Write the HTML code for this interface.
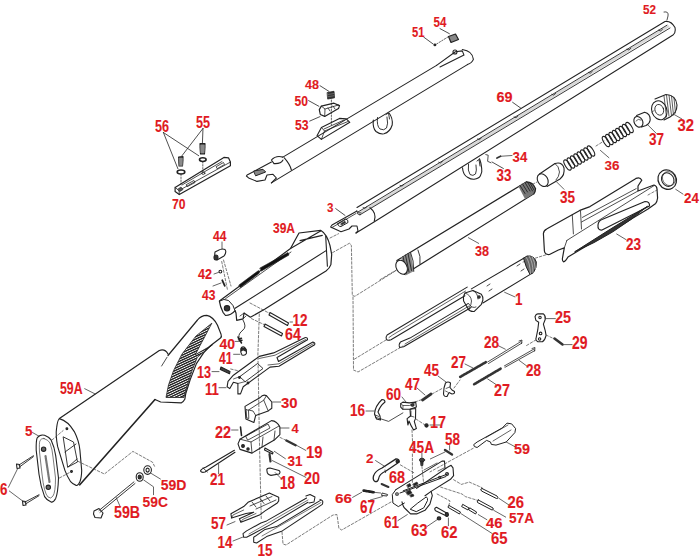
<!DOCTYPE html>
<html><head><meta charset="utf-8"><style>
html,body{margin:0;padding:0;background:#fff;width:700px;height:560px;overflow:hidden}
svg{display:block}
.lb text{font-family:"Liberation Sans",sans-serif;font-weight:bold;fill:#e01a22;stroke:#e01a22;stroke-width:0.12px}
</style></head><body>
<svg width="700" height="560" viewBox="0 0 700 560">
<defs>
<pattern id="chk" width="2.2" height="2.2" patternUnits="userSpaceOnUse" patternTransform="rotate(-25)"><rect width="2.2" height="1.35" fill="#1a1a1a"/></pattern>
<pattern id="chk2" width="2" height="2" patternUnits="userSpaceOnUse" patternTransform="rotate(-30)"><rect width="2" height="1" fill="#222"/></pattern>
</defs>
<rect width="700" height="560" fill="#fff"/>
<g fill="none" stroke="#222" stroke-width="1.1" stroke-linejoin="round" stroke-linecap="round">
<path d="M357,207.5 L665,21.5 Q671,20.5 675,27.5 Q676,33 673,35 L374,222 L356,233" />
<path d="M359.5,213.4 L668,26.5" stroke-width="2.6" stroke="#d8d8d8"/>
<path d="M358,212 L667,25.2 M360,214.8 L670,28" stroke-width="0.9"/>
<path d="M358,212 Q355.5,214 360,214.8" stroke-width="0.9"/>
<path d="M357,211 L332,225 L330.6,227 L341,231.7 L349,229 L352,226 L357,226 L358,231 L356,233" />
<path d="M370,207.7 Q377,213 374.3,221" />
<path d="M338,223.5 L345.5,219 Q348.5,219.5 348,222.5 L341,226.5 Q337.5,226.5 338,223.5 Z" stroke-width="1"/>
<path d="M341,223.5 L345,221.2 L345.5,222.8 L341.5,225 Z" fill="#333" stroke-width="0.6"/>
<path d="M332,227.5 L356,213.5 M356.5,211 Q358.5,214 361,213" stroke-width="0.8"/>
<path d="M658.6,30.33999999999999 q2,2 4,-1" stroke-width="0.8"/>
<path d="M626.9,49.360000000000014 q2,2 4,-1" stroke-width="0.8"/>
<path d="M588.3,72.52000000000002 q2,2 4,-1" stroke-width="0.8"/>
<path d="M551.7,94.47999999999998 q2,2 4,-1" stroke-width="0.8"/>
<path d="M514,117.1 q2,2 4,-1" stroke-width="0.8"/>
<path d="M477.4,139.06 q2,2 4,-1" stroke-width="0.8"/>
<path d="M438.6,162.33999999999997 q2,2 4,-1" stroke-width="0.8"/>
<path d="M400,185.5 q2,2 4,-1" stroke-width="0.8"/>
<path d="M363,207.7 q2,2 4,-1" stroke-width="0.8"/>
<path d="M436.6,65.4 L282.9,157.1" />
<path d="M467.4,64.6 L271.4,182.9" />
<path d="M436.6,65.4 L455.4,51.7 L462.3,50.9 L464,55.1 L440,67" />
<path d="M462.3,49.5 Q472.6,51 473.4,59.4 Q472,63 467.4,64.6" />
<circle cx="455" cy="52" r="2" />
<path d="M373.3,120 Q372.5,128 376,131.5 Q380,134.5 384,133.8 Q390,132 392.2,125 Q393,118 389,113" stroke-width="1.1"/>
<path d="M377.5,117.5 Q376.5,126 380,129 Q384,131 386.5,128 Q388.5,124 387,117 M386,114.5 L388.5,113 L389.5,119" stroke-width="0.9"/>
<path d="M317,135.7 L321.4,127.4 L339.5,118.4 L346.3,118.9 L349.8,122.3 L321.4,139.4 Z" stroke-width="1.1"/>
<path d="M321.4,127.4 L324.5,131 L321.4,139.4 M324.5,131 L348,121.5 M324,129 L344,120" stroke-width="0.8"/>
<path d="M319.3,109.6 L321.3,106.1 L334,103.2 L339.5,105.6 L338.5,108.6 L324.7,116.4 L320.3,114.5 Z" stroke-width="1.2"/>
<path d="M321.3,106.1 L325,109 L324.7,116.4 M325,109 L338.5,105 M328,108 l2,3 M333,106 l2,3" stroke-width="0.8"/>
<path d="M327.5,92.5 L334,91.3 L334.5,97.8 L328,99 Z" fill="#333" stroke-width="0.8"/>
<path d="M328,94.5 l6,-1 M328,96.7 l6,-1" stroke="#888" stroke-width="0.6"/>
<line x1="331.4" y1="100" x2="331.4" y2="125" stroke-dasharray="1.5,1.5" stroke-width="0.7"/>
<path d="M282.9,157.1 Q276,155 271.4,160 L274,163.6 Q281,164 283,160" />
<path d="M271.4,162.1 L247.1,175 L246.4,176 L248.6,177.9 L257,181.4 L265,180 L267,175 L273,174.3 L276.4,178 L271.4,182.9" />
<path d="M284.3,157.9 Q290,164.3 291.4,170" />
<path d="M254,171 L263,169.3 L265.7,172 L256,175.7 Z" stroke-width="1" fill="#888"/>
<path d="M175.1,187.5 L223.9,157.4 L228.5,157.8 L230.4,162.1 L230.4,165.8 L179.3,194.6 L175.1,191.5 Z" stroke-width="1.2"/>
<path d="M175.1,187.5 L179,190.5 L230.4,162.1 M179,190.5 L179.3,194.6 M182,185 L222,161.5" stroke-width="0.8"/>
<path d="M186.5,184.5 L194,180.5 L195,182.5 L187.5,186.5 Z M216.5,166.5 L223.5,162.5 L224.5,164.5 L217.5,168.5 Z" stroke-width="0.8"/>
<ellipse cx="203.3" cy="173.2" rx="1.6" ry="1.2" stroke-width="0.8"/>
<path d="M178,189 l3,-2 l2,2.5 l-3,2 Z" fill="#555" stroke-width="0.6"/>
<path d="M178.6,157 L183,156.6 L183,160 L182.5,166 L179,166 L178.6,160 Z" fill="#666"/>
<path d="M178.6,159 h4.4 M178.8,161 h4 M179,163 h3.6 M179,165 h3.5" stroke="#fff" stroke-width="0.5"/>
<path d="M200,143.6 L205,143.6 L205,147 L204.5,154 L200.5,154 L200,147 Z" fill="#666"/>
<path d="M200,146 h5 M200.2,148 h4.6 M200.3,150 h4.3 M200.4,152 h4" stroke="#fff" stroke-width="0.5"/>
<ellipse cx="181" cy="172" rx="3.8" ry="2" stroke-width="1.6"/>
<ellipse cx="202.8" cy="159.6" rx="3.3" ry="1.9" stroke-width="1.6"/>
<line x1="181" y1="174" x2="181" y2="186" stroke-dasharray="1.5,1.5" stroke-width="0.7"/>
<line x1="202.8" y1="161.6" x2="202.8" y2="172" stroke-dasharray="1.5,1.5" stroke-width="0.7"/>
<line x1="163.4" y1="132.5" x2="177.9" y2="168.7" stroke-width="0.8"/>
<line x1="163.4" y1="132.5" x2="198.7" y2="155.7" stroke-width="0.8"/>
<line x1="203" y1="128.4" x2="182" y2="155.7" stroke-width="0.8"/>
<line x1="203" y1="128.4" x2="202.4" y2="143.6" stroke-width="0.8"/>
<line x1="320" y1="85.7" x2="329" y2="91.4" stroke-width="0.8"/>
<line x1="308.6" y1="100.6" x2="318.9" y2="106.3" stroke-width="0.8"/>
<line x1="309.7" y1="121.1" x2="320" y2="116.6" stroke-width="0.8"/>
<line x1="423.7" y1="37.1" x2="433.1" y2="44" stroke-width="0.8"/>
<line x1="440" y1="28.6" x2="449.4" y2="33.7" stroke-width="0.8"/>
<line x1="512.6" y1="102.3" x2="520.6" y2="108" stroke-width="0.8"/>
<line x1="335.7" y1="208.6" x2="345" y2="215.4" stroke-width="0.8"/>
<line x1="492" y1="162" x2="503.4" y2="168.5" stroke-width="0.8"/>
<line x1="436.6" y1="44" x2="447.7" y2="37.1" stroke-dasharray="1.5,1.5" stroke-width="0.7"/>
<circle cx="434.9" cy="44.9" r="0.9" fill="#222"/>
<path d="M448.5,36.5 L455.5,34 L458.5,39.5 L451,42.5 Z" fill="#888" stroke-width="1.2"/>
<path d="M462.5,167.7 Q463,175 467.9,177.5 Q471,179.5 474.1,179.3 Q479,178.5 480.4,175.7 Q482.5,172 481.7,168.6 Q481,162 479.5,158.75" stroke-width="1.1"/>
<path d="M468.5,164 Q467.5,171 470,174.5 Q473,176.5 475.5,174 Q477,171 476,165 M477,161 L479,159.5 L480,166" stroke-width="0.9"/>
<path d="M299,233 L320.6,230.3 Q327,234 330,245.7 L331.7,254.3 L330.9,264.6 Q329.5,268.5 326,271 L300,286.9 L265,309.1 L250.4,317.2 L244,313.1 L243.1,318.8 L236.7,320.4 L236,313 L235.1,310.7 Q231,315.5 225.5,315.5 L223,312.3 Q220,306 219.4,301.1 L290.5,248.5 L299,233 Z" stroke-width="1.2"/>
<path d="M290.5,248.5 L320.6,231 M300,240.6 L322.3,235.4 M325.7,236.3 L327.4,266.3 M325.7,250.9 L235.1,308.3" />
<path d="M291,252 L225.5,298.7" stroke-width="0.8"/>
<path d="M239,285 L258.5,270.5 L259.5,273 L240.5,287.5 Z M260,268 L288,252.5 L289,255 L261.5,271 Z" fill="#111" stroke-width="0.6"/>
<path d="M219.4,301.1 Q224,298 228.5,300.5 Q234,305 235.1,310.7" stroke-width="1"/>
<circle cx="227" cy="308.3" r="2.7" fill="#333"/>
<path d="M244,313.1 L240,316 M243.1,318.8 L246,316" stroke-width="0.8"/>
<path d="M215,252 Q214,258 217,260 L224,256 Q227,252 225,249.5 Q222,248 218,250.5 Z" />
<ellipse cx="216" cy="257.5" rx="2" ry="2.5" fill="#333"/>
<circle cx="220.4" cy="271.6" r="1.4" />
<path d="M222.3,280.3 L224.8,285.8" stroke-width="1.8"/>
<path d="M222,242 L222,249" stroke-width="0.75" stroke="#333"/>
<path d="M214,274 L218.5,272.4" stroke-width="0.75" stroke="#333"/>
<path d="M213,286 L221,283" stroke-width="0.75" stroke="#333"/>
<path d="M221.7,261.5 L227.5,290" stroke-dasharray="2.5,1.8" stroke-width="0.7" stroke="#444"/>
<path d="M223.5,260 L231,286" stroke-dasharray="2.5,1.8" stroke-width="0.7" stroke="#444"/>
<path d="M270,312.5 L288.5,323 L287.5,325.5 L269,315 Z" />
<path d="M265,324 L282.5,333.5 L281.5,336 L264,326.5 Z" />
<path d="M290,322 L292.5,322" stroke-width="0.75" stroke="#333"/>
<path d="M250,303 L270,313.6" stroke-dasharray="2.5,1.8" stroke-width="0.7" stroke="#444"/>
<path d="M251.4,318.6 L265,325" stroke-dasharray="2.5,1.8" stroke-width="0.7" stroke="#444"/>
<path d="M259.3,314 L257.9,354 L258.4,380 L259.4,440 L261.3,520" stroke-dasharray="2.5,1.8" stroke-width="0.7" stroke="#444"/>
<path d="M243,320 Q247,327 243,330 Q238,334 239,337" stroke-width="0.9"/>
<path d="M238,337 L241.5,343 M238.5,339 l3,-0.8 M239,341 l3,-0.8" stroke-width="1.5"/>
<path d="M241,349 Q241,346.5 244,347 Q247,349 246.4,353.5 Q245,356 242,355 Q240,352 241,349 Z" stroke-width="1.1"/>
<path d="M241,349 Q243,347 246,349.5 L245.5,351 Q243,349 241.3,351 Z" fill="#333"/>
<path d="M235,341.4 L237.9,341.4" stroke-width="0.75" stroke="#333"/>
<path d="M233.6,354.3 L240,354.3" stroke-width="0.75" stroke="#333"/>
<path d="M221,367 L230,371.5 L229.5,373.8 L220.3,369.5 Z" fill="#444"/>
<path d="M212,371.6 L219,371.6" stroke-width="0.75" stroke="#333"/>
<path d="M219,387.7 L226,387.7" stroke-width="0.75" stroke="#333"/>
<path d="M230.7,369 L237.9,370.7" stroke-dasharray="2.5,1.8" stroke-width="0.7" stroke="#444"/>
<path d="M304.8,337.7 Q307.8,337 307.5,339.8 L277,357.5 L278.5,361.5 L312.9,342.1 Q315.5,342.5 314.6,344.8 L279,366.3 L270,367.1 L243.2,386.8 L240.5,393.9 L237.9,393.9 L237.9,383.5 L233.4,382.3 L229.8,388.6 L227.1,386.8 L228,381.4 L233.4,375.2 L259.3,356.4 L273.6,352.9 Z" stroke-width="1.1"/>
<path d="M240,376.5 L257.5,363.5 L263,368.5 L245.5,381.5 Z" stroke-width="0.9"/>
<path d="M305.5,339.6 L275,355.2 L259,358.5 M313.5,343.6 L279,363.8 L268,365 M233.5,379 L240,376.5 M237.9,383.5 L245.5,381.5" stroke-width="0.7"/>
<circle cx="239.5" cy="377.5" r="0.9" fill="#333"/><circle cx="248" cy="383" r="0.9" fill="#333"/>
<path d="M245,406.4 L245.9,418.9 L253.9,422.5 L255.7,415.4 L268.2,410.9 L271.8,408.2 L271.8,402 L266.4,395.7 Q263,394 260.2,397.5 L245,406.4 Z" stroke-width="1.1"/>
<path d="M248.6,410 L263.75,400.2 L266.4,395.7 M255.7,415.4 L253,411 L248.6,410 M263.75,400.2 L268.2,410.9" stroke-width="0.8"/>
<path d="M246.5,409.5 L248.5,410.5 L248.8,418.5 L247,418 Z" stroke-width="0.8"/>
<path d="M272.7,402 L280.7,402" stroke-width="0.75" stroke="#333"/>
<path d="M240,439.2 L271.5,420.6 Q277,421 279.9,427.1 L279.9,434.6 L274.3,440.1 L261.3,447.6 L252,453.1 L240,449.4 L238,443.9 Z" stroke-width="1.1"/>
<path d="M246,436 L268,424 L270,428 L248,440 Z M240,439.2 L251,442 L279,426 M251,442 L252,453 M262,447 L263,437 M274,440 L275,431" stroke-width="0.8"/>
<circle cx="243" cy="446" r="1.4" fill="#333"/><circle cx="248" cy="449" r="1.2" fill="#333"/>
<path d="M289,428 L280,428" stroke-width="0.75" stroke="#333"/>
<path d="M240.5,427 L241.5,435.5" stroke-width="1.6"/>
<path d="M231.6,430 L238,430" stroke-width="0.75" stroke="#333"/>
<path d="M234.4,450.3 L206,467 Q201,469 200.5,471 Q201.5,473 205,472 L235,452.3" />
<path d="M203,468 L207.4,472" stroke-width="0.8"/>
<path d="M218.6,464.3 L218.6,473.6" stroke-width="0.75" stroke="#333"/>
<path d="M286.4,440.5 L295.6,445.2" stroke-width="2.4" stroke="#333"/>
<path d="M280,437.4 L286.4,440.5" stroke-dasharray="2.5,1.8" stroke-width="0.7" stroke="#444"/>
<path d="M295.6,444.8 L305.8,450.4" stroke-width="0.75" stroke="#333"/>
<path d="M265,448 L273,452.5 L272.5,454 L264.5,450 Z" />
<path d="M274.3,451.3 L285.4,458.7" stroke-width="0.75" stroke="#333"/>
<path d="M269.5,454 L270.5,461.5" stroke-width="2.2" stroke="#333"/>
<path d="M272.4,460.6 L305.8,477.3" stroke-width="0.75" stroke="#333"/>
<path d="M267,471 Q266,468 270,468 L279,470.5 Q281,472 279,474 L271,475.4 Q267,474.5 267,471 Z" />
<path d="M275.2,472.6 L281.7,479.1" stroke-width="0.75" stroke="#333"/>
<path d="M248,502.3 L269.4,493 L270.9,493.7 L278.7,497.3 L278.7,500.9 L277.3,503 L265.1,510.9 L259.4,515.1 L240.9,522.3 L239.4,518.7 L253.7,512.3 L246,513.5 L231.6,518 L230.9,513.7 L243.7,506.6 Z" stroke-width="1.1"/>
<path d="M250,506 L272,496.5 M256,509 L276,500 M252,502 l4,5 M260,498.5 l4,5 M266,496 l4,5" stroke-width="0.8"/>
<path d="M231.6,518 L233,515 L243.7,510 M241,522 L242.5,519.5 L256,513.5" stroke-width="0.7"/>
<path d="M227,525 L235,521.6" stroke-width="0.75" stroke="#333"/>
<path d="M306.6,498 L266.6,520.9 L260.9,523 L246.6,530.9 L243,533.7 L243.7,537.3 L246.6,537.3 L270.9,524.4 L308,502.3 M305.9,496 L310,494.5 L315,497 L314,502 L309,503" stroke-width="1.05"/>
<path d="M308,500 L249,534" stroke-width="0.6"/>
<path d="M320.9,500.1 L276.6,526.6 L265.1,529.4 L253.7,537.3 L253.7,542.3 L256.6,543 L266.6,536.6 L282.3,530.9 L322.3,504.4 Q324,500 320,499.4" stroke-width="1.05"/>
<path d="M321,502.5 L262,536" stroke-width="0.6"/>
<path d="M233,541 L243,537" stroke-width="0.75" stroke="#333"/>
<path d="M282,532 L283,544 L286,545 L333,515 L337,514.6 L338.9,528.3 L341.7,530 L391,502" stroke-dasharray="2.5,1.8" stroke-width="0.7" stroke="#444"/>
<path d="M84.7,388.7 L95,393.9" stroke-width="0.75" stroke="#333"/>
<path d="M59.4,418.6 L159.3,350.5 Q165,348.5 168,354" stroke-width="1.2"/>
<path d="M168,355.5 L197.5,320 Q201,315.5 206.8,315.4 Q213,316.5 217.5,325.2 L221,334.1 Q222,336.5 220.5,338 L210.4,345.7 L203.6,352.9 L196.4,363.6 L190.2,379.6 L185.7,393.9 L184.8,399.3 Q183,402.5 181.25,402.9 L160.7,402 L155,399.5" stroke-width="1.2"/>
<path d="M161.6,366 L167,357.3" stroke-width="0.8"/>
<path d="M211.6,323.4 L196,336 L182,354 L173.5,370.7 L168.5,385 L166,397.5 L183.9,397.5 L187.5,385 L192,370.7 L197.3,357.3 L212.5,344.8 L195.5,354.6 Z" fill="url(#chk)" stroke="#222" stroke-width="0.8"/>
<path d="M155,399.5 L79.8,484.8" stroke-width="1.6"/>
<path d="M59.4,418.6 Q68,421 74.3,431.6 Q79,441 79.9,450.1 L81.7,470.6 Q81.5,478 79.9,481.7 Q78,486 76.1,485.4 Q73,484.5 70.6,481.7 Q67,476 65,470.6 L57.6,446.4 Q55.5,435 56.6,427.9 Q57.5,420 59.4,418.6 Z" stroke-width="1.1"/>
<path d="M63.5,437 L73.5,442 L77.5,462 L68,467 Z M65,452 L76,444 M68,467 L77,459" stroke-width="0.9"/>
<circle cx="66.9" cy="428.8" r="0.9" fill="#333"/><circle cx="71.5" cy="471.5" r="0.9" fill="#333"/>
<path d="M44.6,435.3 Q49,437 51.1,439.9 Q54.5,447 55.7,455.7 L58.5,478 Q58,493 55.7,498.4 Q53.5,502.5 51.1,502.1 Q47,500.5 44.6,496.6 Q40.5,486 39,474.3 L36.2,450.1 Q36,441 37.1,438 Q40,434 44.6,435.3 Z" stroke-width="1.1"/>
<path d="M44,438.5 Q48.5,440 50,443 Q52.5,450 53,457 L55.5,478 Q55.5,492 53,496 Q51,499.5 48,497 Q44,493 42,474 L39.5,452 Q39,443 40,440.5 Q41.5,438 44,438.5 Z" stroke-width="0.6"/>
<circle cx="43.6" cy="449.2" r="2.2" fill="#666"/><circle cx="48.3" cy="487.3" r="2.2" fill="#666"/>
<path d="M45.5,456 L49.5,482" stroke-width="2.2" stroke="#777" stroke-dasharray="1.2,0.6"/>
<path d="M32.5,432.5 L39,436.2" stroke-width="0.75" stroke="#333"/>
<path d="M52,440 L63.1,430.6" stroke-dasharray="2.5,1.8" stroke-width="0.7" stroke="#444"/>
<path d="M59.4,478 L71.5,471.5" stroke-dasharray="2.5,1.8" stroke-width="0.7" stroke="#444"/>
<path d="M33.4,455.7 L19,465 M33.4,456.7 L19.5,467" stroke-width="0.9"/>
<path d="M16.5,464 L19.5,464.5 L20,468 L17,468.5 Z" />
<path d="M39,494.7 L25,502 M39,495.7 L25.5,504" stroke-width="0.9"/>
<path d="M22.5,501 L25.5,501.5 L26,505 L23,505.5 Z" />
<path d="M8.4,487.3 L17.6,468.7" stroke-width="0.75" stroke="#333"/>
<path d="M9.3,491 L24.1,502.1" stroke-width="0.75" stroke="#333"/>
<path d="M78,461.3 L81.8,463.2 L104.4,474 L132.9,451.4 L152.5,462.2 L154.5,466.2" stroke-dasharray="2.5,1.8" stroke-width="0.7" stroke="#444"/>
<ellipse cx="147.6" cy="470.1" rx="3.8" ry="4.3" /><ellipse cx="147.6" cy="470.1" rx="1.6" ry="2" />
<ellipse cx="139.7" cy="477" rx="3.5" ry="4.3" /><ellipse cx="139.7" cy="477" rx="1.6" ry="2" fill="#333"/>
<path d="M133.9,481.9 L99,510.5 M135,483.5 L100,512.3" stroke-width="0.9"/>
<path d="M94,511 L99,508.5 L103,513 L101,518 L95,517.5 L93.5,514 Z" />
<path d="M116.2,497.6 L120.1,506.4" stroke-width="0.75" stroke="#333"/>
<path d="M150.5,473 L160.4,479" stroke-width="0.75" stroke="#333"/>
<path d="M143.7,480 L153.5,486.8 L153.5,494.7" stroke-width="0.75" stroke="#333"/>
<path d="M526.3,181.9 L396.9,260.5 M533.8,193.8 L404.4,274.4" stroke-width="1.2"/>
<path d="M518.5,186.6 L526.3,181.9 Q533,182 535.6,188.8 Q535.5,192 533.8,193.8 L525,199 Z" fill="#777" stroke="none"/>
<path d="M526.3,181.9 Q533,182 535.6,188.8 Q535.5,192 533.8,193.8" stroke-width="1.2"/>
<path d="M520,185.5 l5,8 M522.5,184 l5,8 M525,182.5 l5,8.5 M527.5,182 l5,9 M530,183 l4,7" stroke-width="0.9" stroke="#222"/>
<path d="M401,257.8 L410.6,252.5 L413.8,271.3 L405.5,275.5 Z" fill="#8a8a8a" stroke="none"/>
<path d="M403,256.5 l3.5,16.5 M405.5,255 l3.5,17 M408,253.5 l3.5,17 M410.6,252.5 Q414,260 413.8,271.3 M418,250 Q421,256 420,263.8" stroke-width="0.9" stroke="#222"/>
<ellipse cx="401.6" cy="267.2" rx="5.3" ry="7.4" transform="rotate(-28 401.6 267.2)" fill="#fff" stroke-width="1.1"/>
<path d="M468.4,237.7 L478.7,243.4" stroke-width="0.75" stroke="#333"/>
<path d="M380,279.7 L398,269" stroke-dasharray="2.5,1.8" stroke-width="0.7" stroke="#444"/>
<path d="M532.4,184.4 L537,182" stroke-dasharray="2.5,1.8" stroke-width="0.7" stroke="#444"/>
<path d="M539.5,174 L555,163.5 Q562,161.5 564,168 Q565,175 560,179 L547,186.5" stroke-width="1.1"/>
<path d="M555,163.5 Q559,166 559.5,172 Q559,177 556,180" stroke-width="0.8"/>
<ellipse cx="542.7" cy="180.1" rx="5" ry="6.8" transform="rotate(-30 542.7 180.1)"/>
<path d="M556.7,182 L564,189.3" stroke-width="0.75" stroke="#333"/>
<ellipse cx="567.5" cy="165.0" rx="2.3" ry="5.8" transform="rotate(-32 567.5 165.0)" stroke-width="1.1"/>
<ellipse cx="570.9" cy="163.0" rx="2.3" ry="5.8" transform="rotate(-32 570.9 163.0)" stroke-width="1.1"/>
<ellipse cx="574.2" cy="161.0" rx="2.3" ry="5.8" transform="rotate(-32 574.2 161.0)" stroke-width="1.1"/>
<ellipse cx="577.6" cy="159.0" rx="2.3" ry="5.8" transform="rotate(-32 577.6 159.0)" stroke-width="1.1"/>
<ellipse cx="580.9" cy="157.0" rx="2.3" ry="5.8" transform="rotate(-32 580.9 157.0)" stroke-width="1.1"/>
<ellipse cx="584.3" cy="155.0" rx="2.3" ry="5.8" transform="rotate(-32 584.3 155.0)" stroke-width="1.1"/>
<ellipse cx="587.6" cy="153.0" rx="2.3" ry="5.8" transform="rotate(-32 587.6 153.0)" stroke-width="1.1"/>
<ellipse cx="591.0" cy="151.0" rx="2.3" ry="5.8" transform="rotate(-32 591.0 151.0)" stroke-width="1.1"/>
<path d="M596,146 L604,141" stroke-dasharray="2.5,1.8" stroke-width="0.7" stroke="#444"/>
<ellipse cx="606.0" cy="141.5" rx="2.3" ry="5.8" transform="rotate(-32 606.0 141.5)" stroke-width="1.1"/>
<ellipse cx="609.4" cy="139.5" rx="2.3" ry="5.8" transform="rotate(-32 609.4 139.5)" stroke-width="1.1"/>
<ellipse cx="612.7" cy="137.5" rx="2.3" ry="5.8" transform="rotate(-32 612.7 137.5)" stroke-width="1.1"/>
<ellipse cx="616.1" cy="135.5" rx="2.3" ry="5.8" transform="rotate(-32 616.1 135.5)" stroke-width="1.1"/>
<ellipse cx="619.4" cy="133.5" rx="2.3" ry="5.8" transform="rotate(-32 619.4 133.5)" stroke-width="1.1"/>
<ellipse cx="622.8" cy="131.5" rx="2.3" ry="5.8" transform="rotate(-32 622.8 131.5)" stroke-width="1.1"/>
<ellipse cx="626.1" cy="129.5" rx="2.3" ry="5.8" transform="rotate(-32 626.1 129.5)" stroke-width="1.1"/>
<ellipse cx="629.5" cy="127.5" rx="2.3" ry="5.8" transform="rotate(-32 629.5 127.5)" stroke-width="1.1"/>
<path d="M600.4,150.4 L608.9,157.7" stroke-width="0.75" stroke="#333"/>
<path d="M636.6,115.5 L644.6,112.2 Q650.5,113.5 650.2,120 Q649.5,124 646,125.5 L641.5,127" stroke-width="1.1"/>
<ellipse cx="638.4" cy="121.8" rx="4.2" ry="5.6" transform="rotate(-28 638.4 121.8)" stroke-width="1.1"/>
<path d="M636,121 Q638,118 641,120" stroke-width="0.7"/>
<path d="M647.8,124.9 L656.3,133.4" stroke-width="0.75" stroke="#333"/>
<path d="M652,112 L655,110" stroke-dasharray="2.5,1.8" stroke-width="0.7" stroke="#444"/>
<path d="M655,99 L666,94.5 Q676,95 677,105 Q677,113 670,117 L664,120" stroke-width="1.1"/>
<path d="M664,96 l2.5,21 M666.5,95 l2.5,21 M669,95 l2.5,20.5 M671.5,96 l2,19 M674,98 l1.5,15" stroke-width="0.8" stroke="#333"/>
<ellipse cx="659.3" cy="110.3" rx="7.5" ry="9.7" transform="rotate(-20 659.3 110.3)" stroke-width="1.1"/>
<ellipse cx="659.3" cy="109.8" rx="4.3" ry="5.5" transform="rotate(-20 659.3 109.8)" stroke-width="0.8"/>
<path d="M673.3,114 L681.8,118.9" stroke-width="0.75" stroke="#333"/>
<ellipse cx="667.2" cy="179.6" rx="9" ry="10" transform="rotate(-30 667.2 179.6)" stroke-width="1.2"/>
<ellipse cx="667.7" cy="179.6" rx="6" ry="7" transform="rotate(-30 667.7 179.6)" stroke-width="1"/>
<ellipse cx="669" cy="178.6" rx="6.3" ry="7.3" transform="rotate(-30 669 178.6)" stroke-width="0.6"/>
<path d="M675.7,189.3 L683,194.1" stroke-width="0.75" stroke="#333"/>
<path d="M648,195 L657,190" stroke-dasharray="2.5,1.8" stroke-width="0.7" stroke="#444"/>
<path d="M546.6,229.1 L579.8,210.4 L590,206.6 L636,178.4 Q640,176.5 641.8,180.2 L638,186 L638,191 L654,185 Q657,186 657,189 L657.6,198 Q657,202 655.7,203.4 L648,209 L568,257 Q565.5,261.5 563.5,261.8 Q562,261 562.5,258 L564.3,247.9 L558.4,250 L549.5,254.5 Q545,255 544.4,251 L543.4,233.5 Q544,230 546.6,229.1 Z" stroke-width="1.2"/>
<path d="M566.9,240.4 L653.8,185.8 M566.9,240.4 L564.3,247.9 M572.3,215 L573.4,233.9 M580.5,211 L581.5,229 M582.4,217.4 L636.2,188.6 M581.5,222 L638,191" stroke-width="0.8"/>
<path d="M602,219.5 L645,201.5 Q650,201.5 649.5,206 L602,230 Q597.5,230.5 598,225 Q598.5,220.5 602,219.5 Z" stroke-width="1.2"/>
<path d="M575,251.6 Q610,229 647.5,206.3 Q614,235 575,251.6 Z" fill="#333" stroke="#222" stroke-width="1"/>
<path d="M616.7,234 L626,239.6" stroke-width="0.75" stroke="#333"/>
<path d="M523,262 L547.6,254.3" stroke-dasharray="2.5,1.8" stroke-width="0.7" stroke="#444"/>
<path d="M485.8,154.6 L488.2,155.2 L487.6,161.3 L491,162.8" stroke-width="0.8"/>
<path d="M497,158 L500.5,156.3" stroke-width="1.8" stroke="#333"/>
<path d="M500.5,156.3 L512,155.5" stroke-width="0.75" stroke="#333"/>
<path d="M664,12 Q669,11 668,16 L667,20" stroke-width="0.8"/>
<path d="M525.5,257.2 L471.4,288.9 M532.7,272.9 L482.9,303" stroke-width="1.1"/>
<path d="M523.5,258.3 L527,256 Q534,255 536.3,262 Q537,268 533.5,272.4 L530,274.5 Q526,268 523.5,258.3 Z" fill="#666" stroke-width="1"/>
<path d="M526,257 Q530,262 530.5,274 M529,256 Q533,262 533,272.5 M532,256.3 Q535,262 535.5,269" stroke-width="0.8" stroke="#bbb"/>
<path d="M517,266 l3,-2 M521,271 l3,-2 M487,286 l3,-2 M489,291 l3,-2" stroke-width="0.8"/>
<path d="M465,293 L472.9,290.5 L481.4,294.3 Q483.5,297 482.9,300 L481.4,304.3 L474.3,311.4 Q470,312 467.9,308.6 L463.6,301 Q463,296 465,293 Z" stroke-width="1.1"/>
<path d="M465,293 Q471,295 471.5,301 Q471.5,305 469,308 M472.9,290.5 Q478,293 478,299 M468.5,303.5 Q472,309 476,307" stroke-width="0.8"/>
<circle cx="479" cy="297" r="1.2" fill="#444"/>
<path d="M467.2,287.1 L387.1,335 Q385.5,337 386.3,339 Q387,341 391,339.7 L464.9,295.7" stroke-width="1.05"/>
<path d="M465.6,291 L392.6,335 L389,337.5" stroke-width="0.7"/>
<path d="M468,303.6 L409.9,338.1 L400.4,342.1 Q398.5,344 399.6,347.6 L403.6,346.8 L471.1,307.5" stroke-width="1.05"/>
<path d="M469,306 L405,344" stroke-width="0.7"/>
<path d="M504.6,292.3 L514.9,296.9" stroke-width="0.75" stroke="#333"/>
<path d="M332.6,252.6 L349.7,243.1 L351.4,245.7 L352.3,295.4 L354.9,296.3 L396,270.6" stroke-dasharray="2.5,1.8" stroke-width="0.7" stroke="#444"/>
<path d="M330,238 L338.6,233.7" stroke-dasharray="2.5,1.8" stroke-width="0.7" stroke="#444"/>
<path d="M353,297 L353.5,370 L358,372 L403,346" stroke-dasharray="2.5,1.8" stroke-width="0.7" stroke="#444"/>
<path d="M386,340 L353,360" stroke-dasharray="2.5,1.8" stroke-width="0.7" stroke="#444"/>
<path d="M535,316.7 Q536,313.9 537.8,313.9 L543.4,313.9 Q546,316 545.2,319.5 L543.4,324.1 L545.2,330.6 L546.1,335.3 Q545,340 542.4,341.8 L537.8,341.8 Q535.5,340.5 535.9,339 L537.8,329.7 L538.7,322.3 L535.9,320.4 Z" stroke-width="1.1"/>
<circle cx="540.6" cy="333.4" r="1.3"/><circle cx="539.6" cy="339" r="1.2"/><circle cx="540" cy="317.5" r="1.2"/>
<path d="M546.1,318.6 L555.4,318.6" stroke-width="0.75" stroke="#333"/>
<path d="M554.5,338.5 L562.5,344.5" stroke-width="2.6" stroke="#333"/>
<path d="M546,335 L554.5,339" stroke-dasharray="2.5,1.8" stroke-width="0.7" stroke="#444"/>
<path d="M563.8,344.6 L572.1,344.6" stroke-width="0.75" stroke="#333"/>
<path d="M526.6,345.5 L535.9,339.9" stroke-dasharray="2.5,1.8" stroke-width="0.7" stroke="#444"/>
<path d="M521,341.5 L487.6,362 M522,343 L488.5,363.5" stroke-width="0.8"/>
<path d="M519,341 L522,340 L521.5,343.5" stroke-width="0.8"/>
<path d="M534,349 L504.4,365.9 M535,350.5 L505,367.3" stroke-width="0.8"/>
<path d="M532,348.5 L535,347.5 L534.5,351" stroke-width="0.8"/>
<path d="M485.8,362.2 L460,377" stroke-width="2.6" stroke="#333" stroke-dasharray="0.7,0.5"/>
<path d="M500.6,368.7 L473.7,384.5" stroke-width="2.6" stroke="#333" stroke-dasharray="0.7,0.5"/>
<path d="M497.9,345.5 L505.3,349.2" stroke-width="0.75" stroke="#333"/>
<path d="M519.2,360.4 L526.6,365.9" stroke-width="0.75" stroke="#333"/>
<path d="M487.6,378.9 L496,384.5" stroke-width="0.75" stroke="#333"/>
<path d="M465,364 L473,368" stroke-width="0.75" stroke="#333"/>
<path d="M445.5,383 Q448,381 450.5,383 L450,387.5 L452,390 L454.5,391.5 Q455,394 452,394 L449,392.5 L447,396.4 Q444,397 443.5,394 L444,388 Z" stroke-width="1.1"/>
<path d="M446,388.5 L449.5,387 M445.5,391 l2,1" stroke-width="0.7"/>
<path d="M438,376 L446,382" stroke-width="0.75" stroke="#333"/>
<path d="M422.5,400 L431,394" stroke-width="2.8" stroke="#333" stroke-dasharray="0.8,0.5"/>
<path d="M417,388 L425,395" stroke-width="0.75" stroke="#333"/>
<path d="M415,402 L422,399.5" stroke-dasharray="2.5,1.8" stroke-width="0.7" stroke="#444"/>
<path d="M432,394 L443,388" stroke-dasharray="2.5,1.8" stroke-width="0.7" stroke="#444"/>
<path d="M454,388 L460,380" stroke-dasharray="2.5,1.8" stroke-width="0.7" stroke="#444"/>
<path d="M400.7,403.6 L402.9,402.1 L409.3,402.9 L415.7,402.1 L416.4,407.1 L410,409.3 L402.9,409.3 L400.7,407.1 Z" stroke-width="1.1"/>
<path d="M400.7,403.6 L403,405.5 L409.5,405.5 L415.7,402.5 M403,405.5 L402.9,409.3" stroke-width="0.7"/>
<ellipse cx="412.5" cy="405" rx="1.6" ry="1.2" fill="#444"/>
<path d="M402,397 L406,402" stroke-width="0.75" stroke="#333"/>
<path d="M410,409.3 L415.7,408.5 L415.5,418.6 L414.3,421.4 L416.4,428.6 L413.6,430 Q410.5,425 409,421 L407.9,425 L407.1,418.6 L410.5,416 Z" stroke-width="1.1"/>
<path d="M410.5,416 L414,417 M411,411 L411,416" stroke-width="0.7"/>
<path d="M382,399.5 Q385,399.5 385,402 Q380,406 378,412 L380,416 L380.5,420 L376.5,419 L374.5,414 Q375,406 382,399.5 Z" stroke-width="1.1"/>
<path d="M375,415 l4,1.5 M375.5,417.5 l4,1" stroke-width="0.8"/>
<path d="M366,411 L374,411" stroke-width="0.75" stroke="#333"/>
<path d="M380,418.6 L388.6,421.4 L402.9,412.9" stroke-width="0.8"/>
<circle cx="426.5" cy="425.5" r="1.6" fill="#222"/>
<path d="M416,419 L425,425" stroke-dasharray="2.5,1.8" stroke-width="0.7" stroke="#444"/>
<path d="M430,425 L440,425" stroke-width="0.75" stroke="#333"/>
<path d="M412,430 L413,452" stroke-dasharray="2.5,1.8" stroke-width="0.7" stroke="#444"/>
<path d="M395.9,489.6 L442,461.1 L444.5,461.1 L445,469 M416.6,488.4 L447.5,467.2 L451.1,465.3 L453,467.8 L453.6,475.7 L450.5,479.3 L431.1,491.4 L425,495.7" stroke-width="1.1"/>
<path d="M403.2,490.8 L448.1,473.8 M400,493 L446,476.5 M395.9,489.6 L392.3,494.5 L392.9,503 L398.3,506.6 L404.4,503" stroke-width="1"/>
<path d="M402,501.8 Q403,507 405.6,509 L410.5,513.9 L416.6,513.9 L425,510.3 L429.9,504.2 L432.3,495.7 L431.1,491.4" stroke-width="1.1"/>
<path d="M410.5,509 L417.8,503 L426.3,496.9 Q428,498 427.5,500.5 L423.8,507.8 L416.6,511.5 Z" stroke-width="1"/>
<path d="M407,485 l3,-1.5 l1,2.5 l-3,1.5 Z M413,484 l4,-2 l1,2 l-4,2 Z M406,492 l4,-2 l2,3 l-4,2 Z M410,495 l3,-1 l1,2 l-3,1 Z" fill="#222" stroke-width="0.6"/>
<circle cx="397" cy="494" r="1.3"/><circle cx="439.7" cy="477.3" r="1.1"/><circle cx="447" cy="474" r="1.4"/>
<path d="M424,470 L437,463 M438,471 L444,468" stroke-width="0.7"/>
<path d="M397.9,520.6 L407.3,514.6" stroke-width="0.75" stroke="#333"/>
<path d="M396,458.9 Q399.5,459 399.3,462 L386,471 Q379,474 378.5,479 Q378,482 375,481.5 Q372.5,480 373.5,476 Q375,471 382,468 Z" stroke-width="1.3"/>
<path d="M385,470 l0.5,2.5" stroke-width="0.8"/>
<circle cx="397.3" cy="461.3" r="1.3" fill="#333"/>
<path d="M375.6,460.6 L385,466.6" stroke-width="0.75" stroke="#333"/>
<path d="M400.4,464.9 L415,473.4" stroke-dasharray="2.5,1.8" stroke-width="0.7" stroke="#444"/>
<path d="M381.6,484 L388.4,487" stroke-width="2" stroke="#333"/>
<path d="M363.6,490.6 L373.7,492.3" stroke-width="2.6" stroke="#222" stroke-dasharray="0.8,0.4"/>
<path d="M382.4,493.1 L387.6,494.5 L387,496 L382,495.5 Z" stroke-width="0.9"/>
<path d="M370.4,500 L382.4,496.6" stroke-width="0.75" stroke="#333"/>
<path d="M352.6,497.4 L361.7,492.3" stroke-width="0.75" stroke="#333"/>
<path d="M374,492.3 L380.6,493" stroke-width="0.75" stroke="#333"/>
<ellipse cx="422" cy="460" rx="2.6" ry="1.8" fill="#444" stroke-width="0.9"/>
<path d="M420.8,461 L423.2,461 L422.8,465.5 L421.2,465.5 Z" fill="#333" stroke-width="0.8"/>
<path d="M421.9,453 L421.9,459" stroke-width="0.75" stroke="#333"/>
<path d="M421.9,466 L423.6,483" stroke-dasharray="2.5,1.8" stroke-width="0.7" stroke="#444"/>
<path d="M412.4,454 L412.4,483" stroke-dasharray="2.5,1.8" stroke-width="0.7" stroke="#444"/>
<path d="M445,450 L452,454.6" stroke-width="2.4" stroke="#333"/>
<path d="M449.6,445.5 L449.6,450" stroke-width="0.75" stroke="#333"/>
<path d="M430.4,458.9 L445,452" stroke-width="0.75" stroke="#333"/>
<path d="M474,444.4 L477.1,442 L502.3,427.9 L507,423.1 L511.7,423.9 L515.6,428.6 L514.9,432.6 L506.2,442 L496,445.1 L491.3,444.4 L490.5,442 L486.6,440.4 L477.1,447.5 L474.8,446.7 Z" stroke-width="1"/>
<path d="M486,437.5 L508,425 M493,441 L511,430" stroke-width="0.7"/>
<path d="M506.2,442 L514.9,446.7" stroke-width="0.75" stroke="#333"/>
<path d="M473.2,448.3 L430,471.9" stroke-dasharray="2.5,1.8" stroke-width="0.7" stroke="#444"/>
<path d="M436.5,507.2 L447,513.3 Q449,515.5 447,516.3 L435.6,510.8 Q433.5,508.5 436.5,507.2 Z" stroke-width="1.1"/>
<ellipse cx="446.8" cy="514.5" rx="1.6" ry="1.9" fill="#333"/>
<ellipse cx="439" cy="518.4" rx="1.8" ry="1.6" fill="#333"/>
<path d="M448.4,518 L448.4,525.7" stroke-width="0.75" stroke="#333"/>
<path d="M437.1,519.7 L426.9,526.6" stroke-width="0.75" stroke="#333"/>
<path d="M482,488.5 L497,496 Q499,499 496.5,498.5 L481.5,491 Q479.5,489 482,488.5 Z" stroke-width="1"/>
<path d="M478.3,500 L493,508 Q494,510 492,510 L477.5,502.5 Q476.5,500.5 478.3,500 Z" stroke-width="1"/>
<path d="M463,504.5 L469,508 L468,510 L462,506.8 Z M470,508 L476.6,512 L475.6,514 L469,510 Z" stroke-width="1"/>
<path d="M449.1,505.5 L460.5,512 L459.5,514 L448.3,507.5 Z" stroke-width="1"/>
<path d="M498.9,498.3 L509.1,505.1" stroke-width="0.75" stroke="#333"/>
<path d="M493.7,510.3 L505.7,517.1" stroke-width="0.75" stroke="#333"/>
<path d="M478.3,514.6 L486.9,519.7" stroke-width="0.75" stroke="#333"/>
<path d="M461.1,513.7 L492,533.4" stroke-width="0.75" stroke="#333"/>
<path d="M453.6,479.7 L461.4,484.4 L469.3,482.1 L481.9,487.6" stroke-dasharray="2.5,1.8" stroke-width="0.7" stroke="#444"/>
<path d="M440.6,487.1 L462,494 L465.4,496.6 L478,500.5" stroke-dasharray="2.5,1.8" stroke-width="0.7" stroke="#444"/>
<path d="M437.1,494 L450,500.9 L449,505" stroke-dasharray="2.5,1.8" stroke-width="0.7" stroke="#444"/>
</g>
<g class="lb">
<text x="433.50" y="27.00" font-size="14.39" textLength="12.91" lengthAdjust="spacingAndGlyphs">54</text>
<text x="412.00" y="37.00" font-size="14.39" textLength="12.52" lengthAdjust="spacingAndGlyphs">51</text>
<text x="643.00" y="13.70" font-size="13.53" textLength="13.03" lengthAdjust="spacingAndGlyphs">52</text>
<text x="305.00" y="88.50" font-size="13.67" textLength="14.03" lengthAdjust="spacingAndGlyphs">48</text>
<text x="294.50" y="106.30" font-size="14.10" textLength="13.53" lengthAdjust="spacingAndGlyphs">50</text>
<text x="295.00" y="129.50" font-size="15.11" textLength="13.63" lengthAdjust="spacingAndGlyphs">53</text>
<text x="196.00" y="128.00" font-size="15.83" textLength="14.03" lengthAdjust="spacingAndGlyphs">55</text>
<text x="155.00" y="131.60" font-size="15.97" textLength="14.03" lengthAdjust="spacingAndGlyphs">56</text>
<text x="172.00" y="209.00" font-size="14.39" textLength="13.53" lengthAdjust="spacingAndGlyphs">70</text>
<text x="327.00" y="211.50" font-size="12.23" textLength="6.45" lengthAdjust="spacingAndGlyphs">3</text>
<text x="273.00" y="232.50" font-size="14.39" textLength="22.05" lengthAdjust="spacingAndGlyphs">39A</text>
<text x="213.00" y="241.00" font-size="14.39" textLength="13.41" lengthAdjust="spacingAndGlyphs">44</text>
<text x="198.00" y="279.20" font-size="14.68" textLength="14.03" lengthAdjust="spacingAndGlyphs">42</text>
<text x="202.00" y="300.20" font-size="14.68" textLength="13.43" lengthAdjust="spacingAndGlyphs">43</text>
<text x="512.60" y="161.70" font-size="14.82" textLength="14.70" lengthAdjust="spacingAndGlyphs">34</text>
<text x="496.60" y="181.00" font-size="15.83" textLength="14.83" lengthAdjust="spacingAndGlyphs">33</text>
<text x="496.60" y="102.30" font-size="14.82" textLength="16.03" lengthAdjust="spacingAndGlyphs">69</text>
<text x="475.00" y="256.00" font-size="14.39" textLength="14.03" lengthAdjust="spacingAndGlyphs">38</text>
<text x="604.50" y="169.50" font-size="13.67" textLength="15.03" lengthAdjust="spacingAndGlyphs">36</text>
<text x="560.00" y="202.50" font-size="16.55" textLength="15.03" lengthAdjust="spacingAndGlyphs">35</text>
<text x="684.00" y="202.50" font-size="14.39" textLength="14.90" lengthAdjust="spacingAndGlyphs">24</text>
<text x="626.00" y="250.00" font-size="15.83" textLength="15.03" lengthAdjust="spacingAndGlyphs">23</text>
<text x="649.00" y="145.00" font-size="15.83" textLength="15.03" lengthAdjust="spacingAndGlyphs">37</text>
<text x="677.50" y="131.00" font-size="15.83" textLength="16.53" lengthAdjust="spacingAndGlyphs">32</text>
<text x="292.50" y="326.00" font-size="15.83" textLength="15.03" lengthAdjust="spacingAndGlyphs">12</text>
<text x="285.00" y="340.00" font-size="15.83" textLength="15.89" lengthAdjust="spacingAndGlyphs">64</text>
<text x="219.50" y="349.00" font-size="14.39" textLength="15.53" lengthAdjust="spacingAndGlyphs">40</text>
<text x="219.00" y="364.00" font-size="16.55" textLength="13.53" lengthAdjust="spacingAndGlyphs">41</text>
<text x="197.00" y="377.50" font-size="16.55" textLength="14.03" lengthAdjust="spacingAndGlyphs">13</text>
<text x="205.00" y="395.00" font-size="15.83" textLength="13.96" lengthAdjust="spacingAndGlyphs">11</text>
<text x="281.00" y="407.50" font-size="14.39" textLength="16.53" lengthAdjust="spacingAndGlyphs">30</text>
<text x="60.00" y="394.00" font-size="16.55" textLength="22.55" lengthAdjust="spacingAndGlyphs">59A</text>
<text x="25.00" y="436.00" font-size="14.39" textLength="7.45" lengthAdjust="spacingAndGlyphs">5</text>
<text x="0.00" y="495.00" font-size="15.83" textLength="7.45" lengthAdjust="spacingAndGlyphs">6</text>
<text x="114.00" y="517.90" font-size="15.68" textLength="26.06" lengthAdjust="spacingAndGlyphs">59B</text>
<text x="142.60" y="507.10" font-size="15.40" textLength="25.36" lengthAdjust="spacingAndGlyphs">59C</text>
<text x="160.70" y="490.00" font-size="15.40" textLength="25.76" lengthAdjust="spacingAndGlyphs">59D</text>
<text x="215.00" y="437.50" font-size="16.55" textLength="16.03" lengthAdjust="spacingAndGlyphs">22</text>
<text x="291.50" y="432.50" font-size="12.95" textLength="7.25" lengthAdjust="spacingAndGlyphs">4</text>
<text x="306.00" y="457.50" font-size="16.55" textLength="16.53" lengthAdjust="spacingAndGlyphs">19</text>
<text x="287.50" y="466.00" font-size="14.39" textLength="15.03" lengthAdjust="spacingAndGlyphs">31</text>
<text x="210.00" y="485.00" font-size="15.83" textLength="15.03" lengthAdjust="spacingAndGlyphs">21</text>
<text x="304.00" y="484.00" font-size="16.55" textLength="16.03" lengthAdjust="spacingAndGlyphs">20</text>
<text x="280.00" y="489.00" font-size="18.71" textLength="15.03" lengthAdjust="spacingAndGlyphs">18</text>
<text x="335.00" y="503.00" font-size="12.95" textLength="17.03" lengthAdjust="spacingAndGlyphs">66</text>
<text x="211.00" y="529.00" font-size="16.55" textLength="15.03" lengthAdjust="spacingAndGlyphs">57</text>
<text x="217.50" y="547.50" font-size="16.55" textLength="14.90" lengthAdjust="spacingAndGlyphs">14</text>
<text x="257.50" y="556.00" font-size="15.83" textLength="15.03" lengthAdjust="spacingAndGlyphs">15</text>
<text x="515.00" y="305.00" font-size="15.83" textLength="7.45" lengthAdjust="spacingAndGlyphs">1</text>
<text x="484.00" y="347.50" font-size="16.55" textLength="15.03" lengthAdjust="spacingAndGlyphs">28</text>
<text x="451.00" y="367.50" font-size="16.55" textLength="15.03" lengthAdjust="spacingAndGlyphs">27</text>
<text x="424.00" y="376.00" font-size="15.83" textLength="15.03" lengthAdjust="spacingAndGlyphs">45</text>
<text x="405.00" y="390.00" font-size="15.83" textLength="15.03" lengthAdjust="spacingAndGlyphs">47</text>
<text x="494.00" y="396.00" font-size="15.83" textLength="16.03" lengthAdjust="spacingAndGlyphs">27</text>
<text x="386.00" y="400.00" font-size="15.83" textLength="15.03" lengthAdjust="spacingAndGlyphs">60</text>
<text x="350.00" y="416.00" font-size="15.83" textLength="15.03" lengthAdjust="spacingAndGlyphs">16</text>
<text x="430.00" y="428.00" font-size="15.83" textLength="16.03" lengthAdjust="spacingAndGlyphs">17</text>
<text x="555.00" y="322.50" font-size="16.55" textLength="16.03" lengthAdjust="spacingAndGlyphs">25</text>
<text x="572.00" y="349.00" font-size="18.71" textLength="15.53" lengthAdjust="spacingAndGlyphs">29</text>
<text x="526.00" y="376.00" font-size="15.83" textLength="15.03" lengthAdjust="spacingAndGlyphs">28</text>
<text x="445.00" y="445.00" font-size="15.83" textLength="15.03" lengthAdjust="spacingAndGlyphs">58</text>
<text x="409.00" y="452.50" font-size="16.55" textLength="25.06" lengthAdjust="spacingAndGlyphs">45A</text>
<text x="366.00" y="462.50" font-size="13.67" textLength="7.45" lengthAdjust="spacingAndGlyphs">2</text>
<text x="389.00" y="482.50" font-size="16.55" textLength="16.03" lengthAdjust="spacingAndGlyphs">68</text>
<text x="360.00" y="512.50" font-size="17.99" textLength="15.03" lengthAdjust="spacingAndGlyphs">67</text>
<text x="384.00" y="527.50" font-size="16.55" textLength="15.03" lengthAdjust="spacingAndGlyphs">61</text>
<text x="411.00" y="536.00" font-size="17.27" textLength="16.53" lengthAdjust="spacingAndGlyphs">63</text>
<text x="441.00" y="537.50" font-size="16.55" textLength="16.53" lengthAdjust="spacingAndGlyphs">62</text>
<text x="507.50" y="507.50" font-size="16.55" textLength="16.53" lengthAdjust="spacingAndGlyphs">26</text>
<text x="509.00" y="522.50" font-size="14.39" textLength="25.06" lengthAdjust="spacingAndGlyphs">57A</text>
<text x="486.00" y="527.50" font-size="14.39" textLength="16.53" lengthAdjust="spacingAndGlyphs">46</text>
<text x="491.00" y="544.00" font-size="16.55" textLength="16.53" lengthAdjust="spacingAndGlyphs">65</text>
<text x="514.00" y="454.00" font-size="14.39" textLength="16.03" lengthAdjust="spacingAndGlyphs">59</text>
</g>
</svg>
</body></html>
